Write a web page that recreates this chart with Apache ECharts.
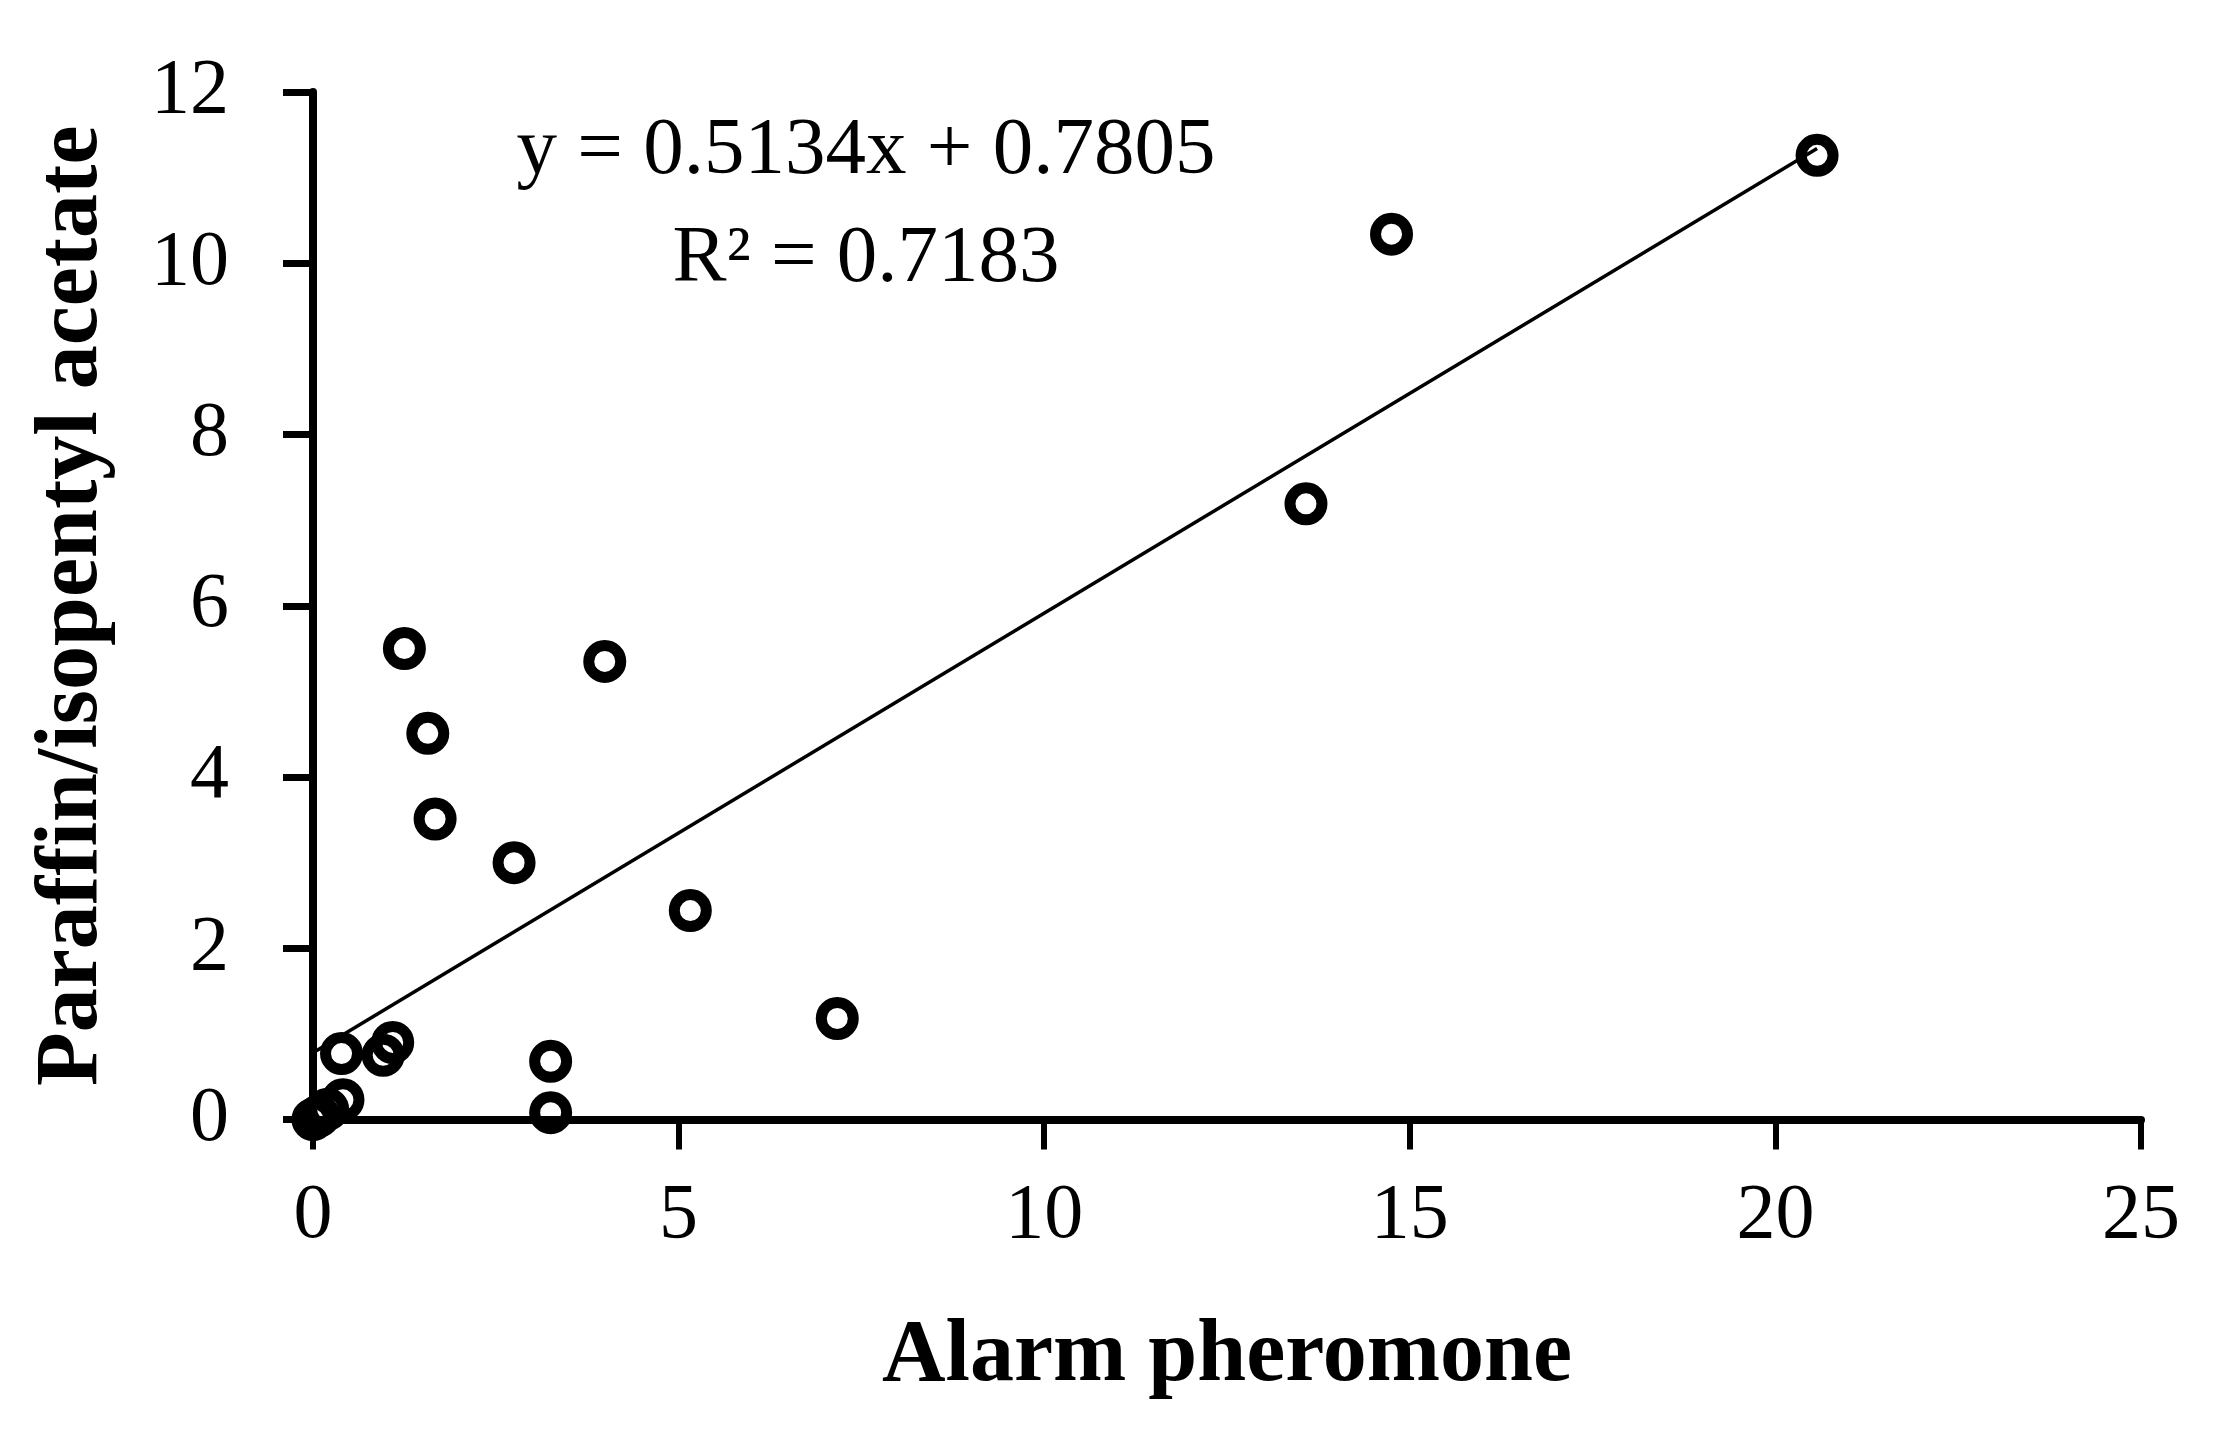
<!DOCTYPE html>
<html>
<head>
<meta charset="utf-8">
<script src="https://cdn.jsdelivr.net/npm/echarts@6/dist/echarts.min.js"></script>
<style>
html,body{margin:0;padding:0;background:#fff;}
#chart{width:2213px;height:1429px;}
</style>
</head>
<body>
<div id="chart"></div>
<script>
// Alarm pheromone (x) vs Paraffin/isopentyl acetate (y)
var alarmX = [20.57, 14.75, 13.58, 1.25, 3.99, 1.57, 1.67, 2.75, 5.16, 7.17, 3.25, 3.25, 0.39, 0.96, 1.09, 0.41, 0.20, 0.08, 0.00];
var paraffinY = [11.26, 10.34, 7.19, 5.50, 5.35, 4.51, 3.51, 3.00, 2.44, 1.18, 0.68, 0.08, 0.77, 0.75, 0.90, 0.23, 0.12, 0.04, 0.00];
var slope = 0.5134, intercept = 0.7805;
var trendX = [0, 20.57];
var xTicks = [0, 5, 10, 15, 20, 25];
var yTicks = [0, 2, 4, 6, 8, 10, 12];
var eqLine1 = 'y = 0.5134x + 0.7805';
var eqLine2 = 'R\u00B2 = 0.7183';

var points = alarmX.map(function (x, i) { return [x, paraffinY[i]]; });
var trend = trendX.map(function (x) { return [x, slope * x + intercept]; });

var FONT = '"Liberation Serif", "Times New Roman", serif';
var chart = echarts.init(document.getElementById('chart'));
chart.setOption({
  backgroundColor: '#ffffff',
  animation: false,
  grid: { left: 313, right: 72, top: 92, bottom: 309.5, containLabel: false },
  xAxis: {
    type: 'value', min: 0, max: 25, interval: 5,
    name: 'Alarm pheromone', nameLocation: 'middle', nameGap: 194,
    nameTextStyle: { fontFamily: FONT, fontWeight: 'bold', fontSize: 88, color: '#000' },
    axisLine: { show: true, onZero: false, lineStyle: { color: '#000', width: 8 } },
    axisTick: { show: true, inside: false, length: 30, lineStyle: { color: '#000', width: 6 } },
    axisLabel: { margin: 58, fontFamily: FONT, fontSize: 78, color: '#000',
      formatter: function (v) { return xTicks.indexOf(v) >= 0 ? String(v) : ''; } },
    splitLine: { show: false }
  },
  yAxis: {
    type: 'value', min: 0, max: 12, interval: 2,
    name: 'Paraffin/isopentyl acetate', nameLocation: 'middle', nameGap: 196, nameRotate: 90,
    nameTextStyle: { fontFamily: FONT, fontWeight: 'bold', fontSize: 88, color: '#000' },
    axisLine: { show: true, onZero: false, lineStyle: { color: '#000', width: 8 } },
    axisTick: { show: true, inside: false, length: 30, lineStyle: { color: '#000', width: 7 } },
    axisLabel: { margin: 84, fontFamily: FONT, fontSize: 78, color: '#000',
      formatter: function (v) { return yTicks.indexOf(v) >= 0 ? String(v) : ''; } },
    splitLine: { show: false }
  },
  series: [
    {
      type: 'line', data: trend, symbol: 'none', silent: true,
      lineStyle: { color: '#000', width: 3.5 }, z: 2
    },
    {
      type: 'scatter', data: points, symbol: 'circle', symbolSize: 32,
      itemStyle: { color: 'rgba(0,0,0,0)', borderColor: '#000', borderWidth: 11, opacity: 1 },
      z: 3
    }
  ],
  graphic: [
    { type: 'text', x: 866, y: 152, style: { text: eqLine1, textAlign: 'center', textVerticalAlign: 'middle', fontFamily: FONT, fontSize: 81, fill: '#000' } },
    { type: 'text', x: 866, y: 260, style: { text: eqLine2, textAlign: 'center', textVerticalAlign: 'middle', fontFamily: FONT, fontSize: 81, fill: '#000' } }
  ]
});
</script>
</body>
</html>
